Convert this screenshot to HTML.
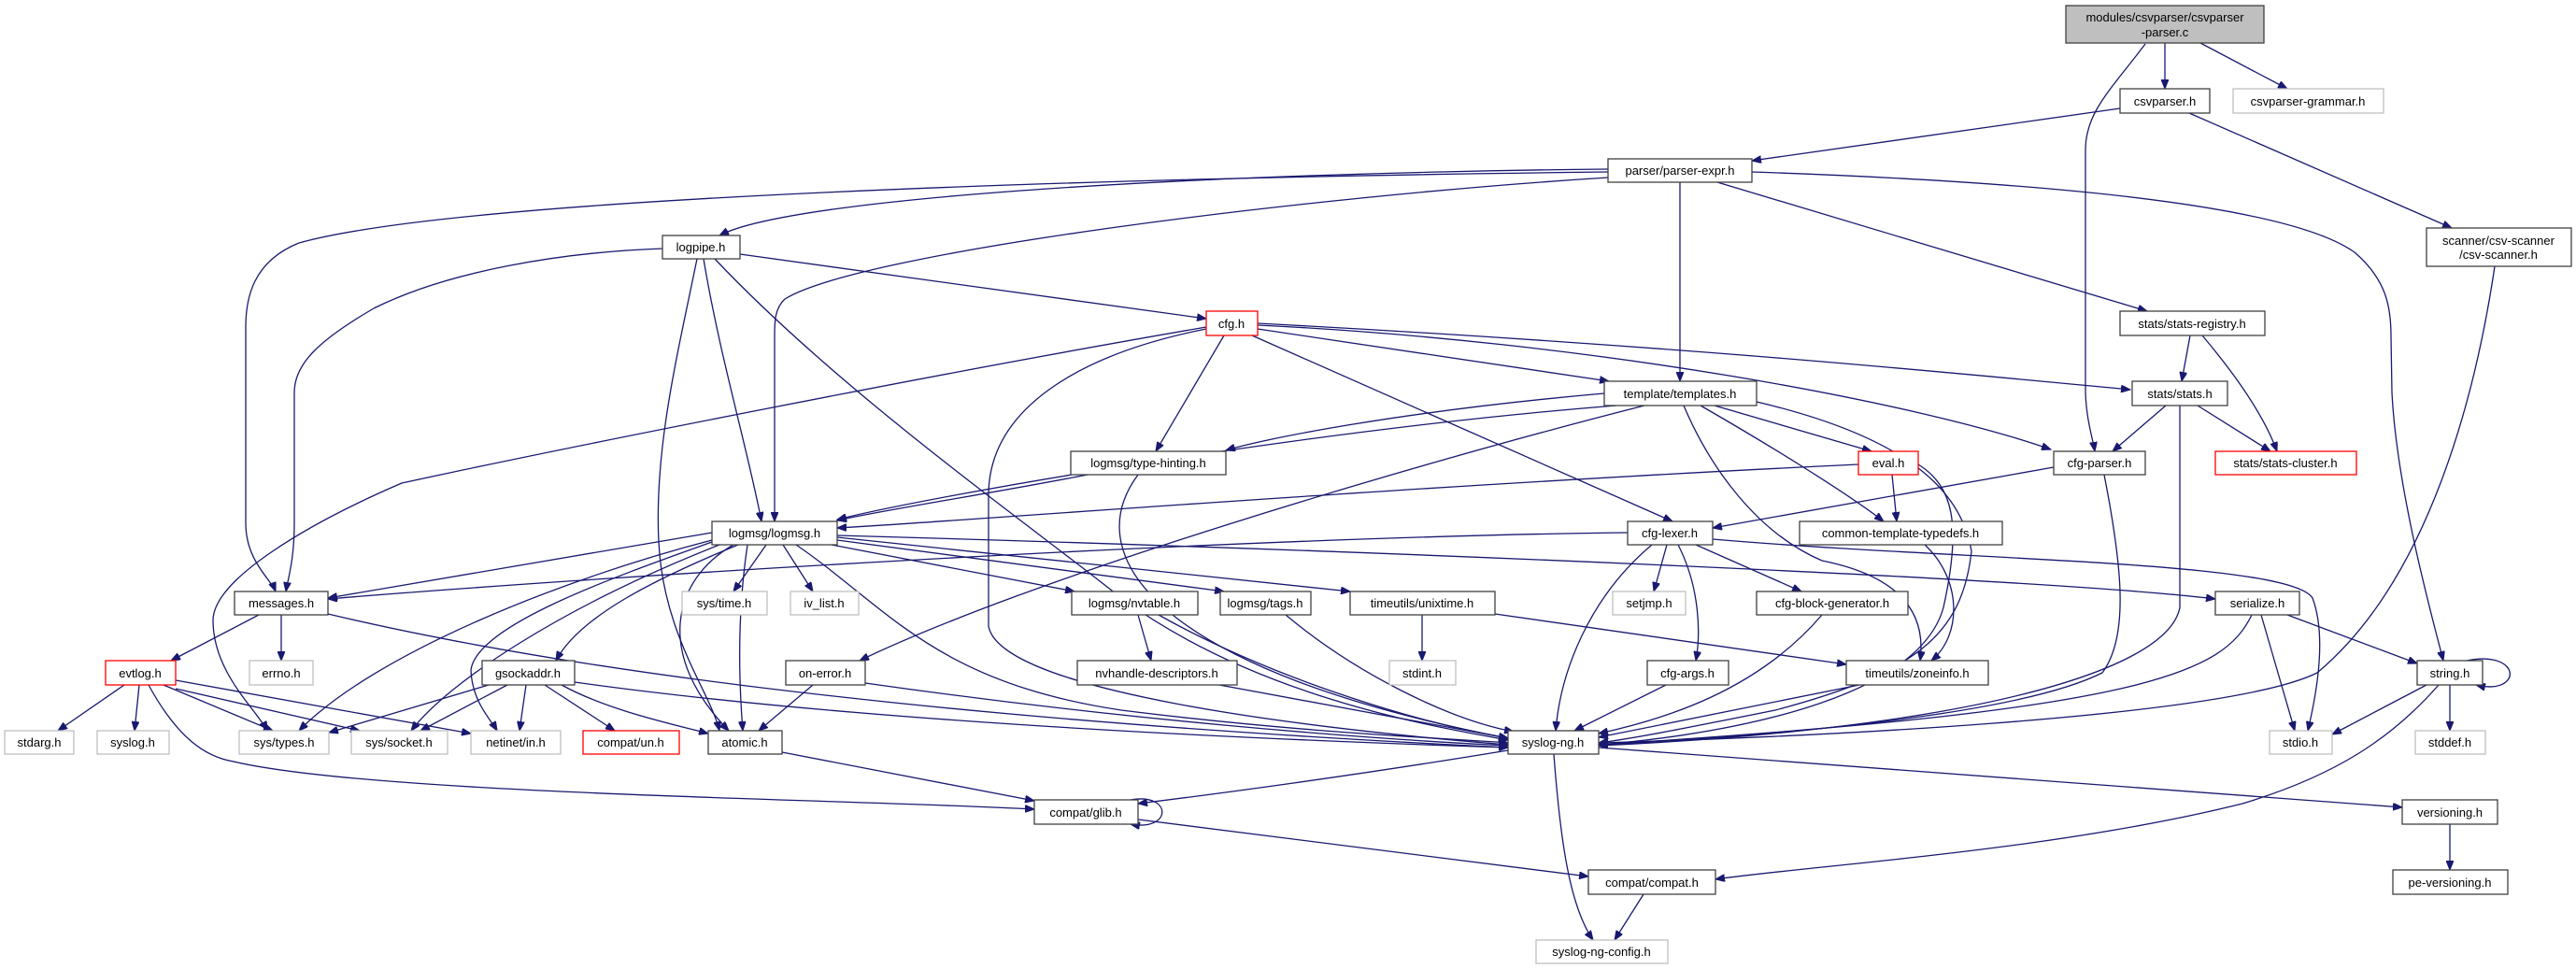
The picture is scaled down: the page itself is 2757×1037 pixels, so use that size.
<!DOCTYPE html>
<html><head><meta charset="utf-8"><style>
html,body{margin:0;padding:0;background:#fff;}
svg{display:block;}
text{font-family:"Liberation Sans",sans-serif;font-size:13px;fill:#000;text-anchor:middle;}
.e{fill:none;stroke:#191970;stroke-width:1.3;marker-end:url(#a);}
.b{fill:#fff;stroke:#404040;stroke-width:1.3;}
.g{fill:#fff;stroke:#bfbfbf;stroke-width:1.3;}
.r{fill:#fff;stroke:#ff0000;stroke-width:1.3;}
</style></head><body>
<svg width="2757" height="1037" viewBox="0 0 2757 1037" xmlns="http://www.w3.org/2000/svg">
<defs><marker id="a" markerUnits="userSpaceOnUse" markerWidth="11" markerHeight="8" refX="10" refY="4" orient="auto"><path d="M0,0 L10,4 L0,8 z" fill="#191970" stroke="#191970"/></marker></defs>
<g>
<path class="e" d="M2317,46 L2317,95"/>
<path class="e" d="M2355,46 L2448,95"/>
<path class="e" d="M2296,47 C2260,95 2232,120 2232,160 L2232,420 C2233,450 2240,470 2242,483"/>
<path class="e" d="M2269,116 L1875,172"/>
<path class="e" d="M2343,121 L2624,244"/>
<path class="e" d="M2670,285 C2650,420 2600,620 2480,720 C2380,770 1900,790 1711,795"/>
<path class="e" d="M1721,184 C1200,190 500,210 320,260 C270,280 263,320 263,350 L263,560 C263,600 290,620 295,633"/>
<path class="e" d="M709,266 C600,270 480,290 400,330 C340,365 315,390 315,420 L315,560 C315,600 308,620 306,633"/>
<path class="e" d="M1721,181 C1300,185 850,210 770,252"/>
<path class="e" d="M1721,190 C1400,210 920,270 840,320 C829,330 829,345 829,360 L829,558"/>
<path class="e" d="M1798,195 L1798,408"/>
<path class="e" d="M1838,195 L2298,333"/>
<path class="e" d="M1875,184 C2200,195 2450,220 2520,270 C2555,300 2559,330 2559,360 L2560,420 C2565,520 2600,650 2615,707"/>
<path class="e" d="M792,272 L1291,341"/>
<path class="e" d="M746,277 C725,380 700,480 705,580 C710,680 760,740 770,782"/>
<path class="e" d="M753,277 C770,380 800,480 815,558"/>
<path class="e" d="M765,277 C900,420 1100,560 1200,640 C1350,750 1550,780 1614,792"/>
<path class="e" d="M1291,350 C1000,400 600,480 430,517 C330,560 228,620 228,664 C228,720 275,760 286,782"/>
<path class="e" d="M1291,352 C1150,380 1058,440 1058,530 L1058,670 C1070,740 1400,780 1614,797"/>
<path class="e" d="M1310,359 L1237,483"/>
<path class="e" d="M1346,352 L1722,408"/>
<path class="e" d="M1340,359 L1790,558"/>
<path class="e" d="M1346,348 C1700,365 2050,430 2195,481"/>
<path class="e" d="M1346,346 C1800,370 2100,400 2280,417"/>
<path class="e" d="M1717,421 C1500,440 1350,470 1312,482"/>
<path class="e" d="M1730,434 C1400,460 1000,530 896,556"/>
<path class="e" d="M1989,497 C1500,520 1000,560 896,565"/>
<path class="e" d="M1760,434 C1500,500 1100,620 920,707"/>
<path class="e" d="M1835,434 L2003,483"/>
<path class="e" d="M1820,434 C1900,480 1980,530 2016,558"/>
<path class="e" d="M1802,434 C1830,500 1880,570 1950,600 C2050,620 2060,670 2055,707"/>
<path class="e" d="M1880,430 C2050,470 2100,530 2110,590 C2100,680 2050,720 1900,760 C1800,780 1750,790 1711,795"/>
<path class="e" d="M1164,508 C1050,530 950,545 896,557"/>
<path class="e" d="M1218,508 C1150,600 1250,720 1614,790"/>
<path class="e" d="M2025,508 L2030,558"/>
<path class="e" d="M2053,497 C2090,520 2100,560 2080,650 C2050,760 1800,790 1711,797"/>
<path class="e" d="M2198,500 L1833,565"/>
<path class="e" d="M2252,508 C2270,600 2280,680 2250,720 C2150,770 1850,790 1711,797"/>
<path class="e" d="M2318,434 L2261,483"/>
<path class="e" d="M2352,434 L2430,483"/>
<path class="e" d="M2333,434 L2333,650 C2320,720 2100,780 1711,798"/>
<path class="e" d="M2344,359 L2335,408"/>
<path class="e" d="M2357,359 C2400,410 2425,450 2437,483"/>
<path class="e" d="M1742,570 C1300,575 600,620 351,641"/>
<path class="e" d="M1784,583 L1770,633"/>
<path class="e" d="M1815,583 L1928,633"/>
<path class="e" d="M1796,583 C1820,630 1820,680 1815,707"/>
<path class="e" d="M1768,583 C1700,640 1670,720 1665,782"/>
<path class="e" d="M1833,577 C2100,600 2450,600 2475,640 C2490,680 2480,740 2470,782"/>
<path class="e" d="M2060,583 C2100,620 2100,680 2067,707"/>
<path class="e" d="M762,570 L351,640"/>
<path class="e" d="M820,583 L785,633"/>
<path class="e" d="M838,583 L870,633"/>
<path class="e" d="M890,583 L1150,633"/>
<path class="e" d="M896,578 L1310,633"/>
<path class="e" d="M896,575 L1445,633"/>
<path class="e" d="M896,573 C1500,590 2200,620 2371,641"/>
<path class="e" d="M790,583 C700,620 620,660 595,707"/>
<path class="e" d="M785,583 C720,620 700,700 780,782"/>
<path class="e" d="M800,583 C790,650 790,720 795,782"/>
<path class="e" d="M762,578 C600,620 400,700 320,782"/>
<path class="e" d="M770,583 C600,650 480,730 440,782"/>
<path class="e" d="M762,580 C650,620 510,670 504,717 C505,750 525,770 532,782"/>
<path class="e" d="M852,583 C950,650 1000,730 1200,760 C1400,785 1550,790 1614,795"/>
<path class="e" d="M277,658 L183,707"/>
<path class="e" d="M301,658 L301,707"/>
<path class="e" d="M351,657 C700,740 1200,780 1614,800"/>
<path class="e" d="M133,733 L62,782"/>
<path class="e" d="M149,733 L144,782"/>
<path class="e" d="M175,733 L292,782"/>
<path class="e" d="M188,737 L385,782"/>
<path class="e" d="M188,728 L504,785"/>
<path class="e" d="M159,733 C190,790 220,810 250,815 C400,850 900,855 1107,866"/>
<path class="e" d="M523,733 L352,784"/>
<path class="e" d="M543,733 L450,782"/>
<path class="e" d="M563,733 L556,782"/>
<path class="e" d="M583,733 L658,782"/>
<path class="e" d="M601,733 C650,760 720,775 758,785"/>
<path class="e" d="M615,730 C900,770 1300,790 1614,800"/>
<path class="e" d="M870,733 L812,782"/>
<path class="e" d="M926,731 C1200,770 1450,790 1614,798"/>
<path class="e" d="M1218,658 L1232,707"/>
<path class="e" d="M1240,658 C1350,720 1500,770 1614,790"/>
<path class="e" d="M1376,658 C1450,720 1550,770 1620,783"/>
<path class="e" d="M1522,658 L1522,707"/>
<path class="e" d="M1600,657 L1976,711"/>
<path class="e" d="M1305,733 L1614,790"/>
<path class="e" d="M1783,733 L1685,782"/>
<path class="e" d="M1950,658 C1880,740 1780,770 1711,785"/>
<path class="e" d="M1990,733 L1711,789"/>
<path class="e" d="M2448,658 L2587,710"/>
<path class="e" d="M2420,658 L2456,782"/>
<path class="e" d="M2410,658 C2380,720 2300,760 1711,797"/>
<path class="e" d="M2640,707 C2700,695 2700,745 2650,733"/>
<path class="e" d="M2597,733 L2496,786"/>
<path class="e" d="M2622,733 L2622,782"/>
<path class="e" d="M2610,733 C2560,790 2500,830 2400,860 C2200,910 1950,925 1836,941"/>
<path class="e" d="M837,805 L1107,857"/>
<path class="e" d="M1614,803 C1450,830 1300,850 1218,860"/>
<path class="e" d="M1711,800 L2571,864"/>
<path class="e" d="M1663,807 C1670,900 1680,970 1705,1006"/>
<path class="e" d="M1210,856 C1255,848 1255,890 1210,882"/>
<path class="e" d="M1218,877 L1700,938"/>
<path class="e" d="M1759,957 L1728,1006"/>
<path class="e" d="M2622,882 L2622,931"/>
</g>
<g>
<rect x="2211" y="6" width="212" height="40" fill="#bfbfbf" stroke="#404040" stroke-width="1.3"/>
<text x="2317" y="23">modules/csvparser/csvparser</text><text x="2317" y="39">-parser.c</text>
<rect class="b" x="2269" y="95" width="96" height="26"/><text x="2317" y="113">csvparser.h</text>
<rect class="g" x="2390" y="95" width="161" height="26"/><text x="2470" y="113">csvparser-grammar.h</text>
<rect class="b" x="2597" y="244" width="155" height="41"/><text x="2674" y="262">scanner/csv-scanner</text><text x="2674" y="277">/csv-scanner.h</text>
<rect class="b" x="1721" y="170" width="154" height="25"/><text x="1798" y="187">parser/parser-expr.h</text>
<rect class="b" x="709" y="252" width="83" height="25"/><text x="750" y="269">logpipe.h</text>
<rect class="r" x="1291" y="333" width="55" height="26"/><text x="1318" y="351">cfg.h</text>
<rect class="b" x="2269" y="333" width="155" height="26"/><text x="2346" y="351">stats/stats-registry.h</text>
<rect class="b" x="2282" y="408" width="102" height="26"/><text x="2333" y="426">stats/stats.h</text>
<rect class="b" x="1717" y="408" width="163" height="26"/><text x="1798" y="426">template/templates.h</text>
<rect class="b" x="1146" y="483" width="166" height="25"/><text x="1229" y="500">logmsg/type-hinting.h</text>
<rect class="r" x="1989" y="483" width="64" height="25"/><text x="2021" y="500">eval.h</text>
<rect class="b" x="2198" y="483" width="98" height="25"/><text x="2247" y="500">cfg-parser.h</text>
<rect class="r" x="2371" y="483" width="151" height="25"/><text x="2446" y="500">stats/stats-cluster.h</text>
<rect class="b" x="762" y="558" width="134" height="25"/><text x="829" y="575">logmsg/logmsg.h</text>
<rect class="b" x="1742" y="558" width="91" height="25"/><text x="1787" y="575">cfg-lexer.h</text>
<rect class="b" x="1926" y="558" width="217" height="25"/><text x="2034" y="575">common-template-typedefs.h</text>
<rect class="b" x="251" y="633" width="100" height="25"/><text x="301" y="650">messages.h</text>
<rect class="g" x="730" y="633" width="91" height="25"/><text x="775" y="650">sys/time.h</text>
<rect class="g" x="846" y="633" width="73" height="25"/><text x="882" y="650">iv_list.h</text>
<rect class="b" x="1147" y="633" width="135" height="25"/><text x="1214" y="650">logmsg/nvtable.h</text>
<rect class="b" x="1306" y="633" width="97" height="25"/><text x="1354" y="650">logmsg/tags.h</text>
<rect class="b" x="1445" y="633" width="155" height="25"/><text x="1522" y="650">timeutils/unixtime.h</text>
<rect class="g" x="1726" y="633" width="78" height="25"/><text x="1765" y="650">setjmp.h</text>
<rect class="b" x="1880" y="633" width="162" height="25"/><text x="1961" y="650">cfg-block-generator.h</text>
<rect class="b" x="2371" y="633" width="90" height="25"/><text x="2416" y="650">serialize.h</text>
<rect class="r" x="113" y="707" width="75" height="26"/><text x="150" y="725">evtlog.h</text>
<rect class="g" x="267" y="707" width="68" height="26"/><text x="301" y="725">errno.h</text>
<rect class="b" x="516" y="707" width="99" height="26"/><text x="565" y="725">gsockaddr.h</text>
<rect class="b" x="841" y="707" width="85" height="26"/><text x="883" y="725">on-error.h</text>
<rect class="b" x="1153" y="707" width="171" height="26"/><text x="1238" y="725">nvhandle-descriptors.h</text>
<rect class="g" x="1487" y="707" width="71" height="26"/><text x="1522" y="725">stdint.h</text>
<rect class="b" x="1763" y="707" width="87" height="26"/><text x="1806" y="725">cfg-args.h</text>
<rect class="b" x="1976" y="707" width="152" height="26"/><text x="2052" y="725">timeutils/zoneinfo.h</text>
<rect class="b" x="2587" y="707" width="70" height="26"/><text x="2622" y="725">string.h</text>
<rect class="g" x="5" y="782" width="74" height="25"/><text x="42" y="799">stdarg.h</text>
<rect class="g" x="104" y="782" width="77" height="25"/><text x="142" y="799">syslog.h</text>
<rect class="g" x="256" y="782" width="96" height="25"/><text x="304" y="799">sys/types.h</text>
<rect class="g" x="376" y="782" width="103" height="25"/><text x="427" y="799">sys/socket.h</text>
<rect class="g" x="504" y="782" width="96" height="25"/><text x="552" y="799">netinet/in.h</text>
<rect class="r" x="624" y="782" width="103" height="25"/><text x="675" y="799">compat/un.h</text>
<rect class="b" x="758" y="782" width="79" height="25"/><text x="797" y="799">atomic.h</text>
<rect class="b" x="1614" y="782" width="97" height="25"/><text x="1662" y="799">syslog-ng.h</text>
<rect class="g" x="2429" y="782" width="67" height="25"/><text x="2462" y="799">stdio.h</text>
<rect class="g" x="2585" y="782" width="75" height="25"/><text x="2622" y="799">stddef.h</text>
<rect class="b" x="1107" y="856" width="111" height="26"/><text x="1162" y="874">compat/glib.h</text>
<rect class="b" x="2571" y="856" width="102" height="26"/><text x="2622" y="874">versioning.h</text>
<rect class="b" x="1700" y="931" width="136" height="26"/><text x="1768" y="949">compat/compat.h</text>
<rect class="b" x="2561" y="931" width="123" height="26"/><text x="2622" y="949">pe-versioning.h</text>
<rect class="g" x="1644" y="1006" width="141" height="25"/><text x="1714" y="1023">syslog-ng-config.h</text>
</g>
</svg>
</body></html>
